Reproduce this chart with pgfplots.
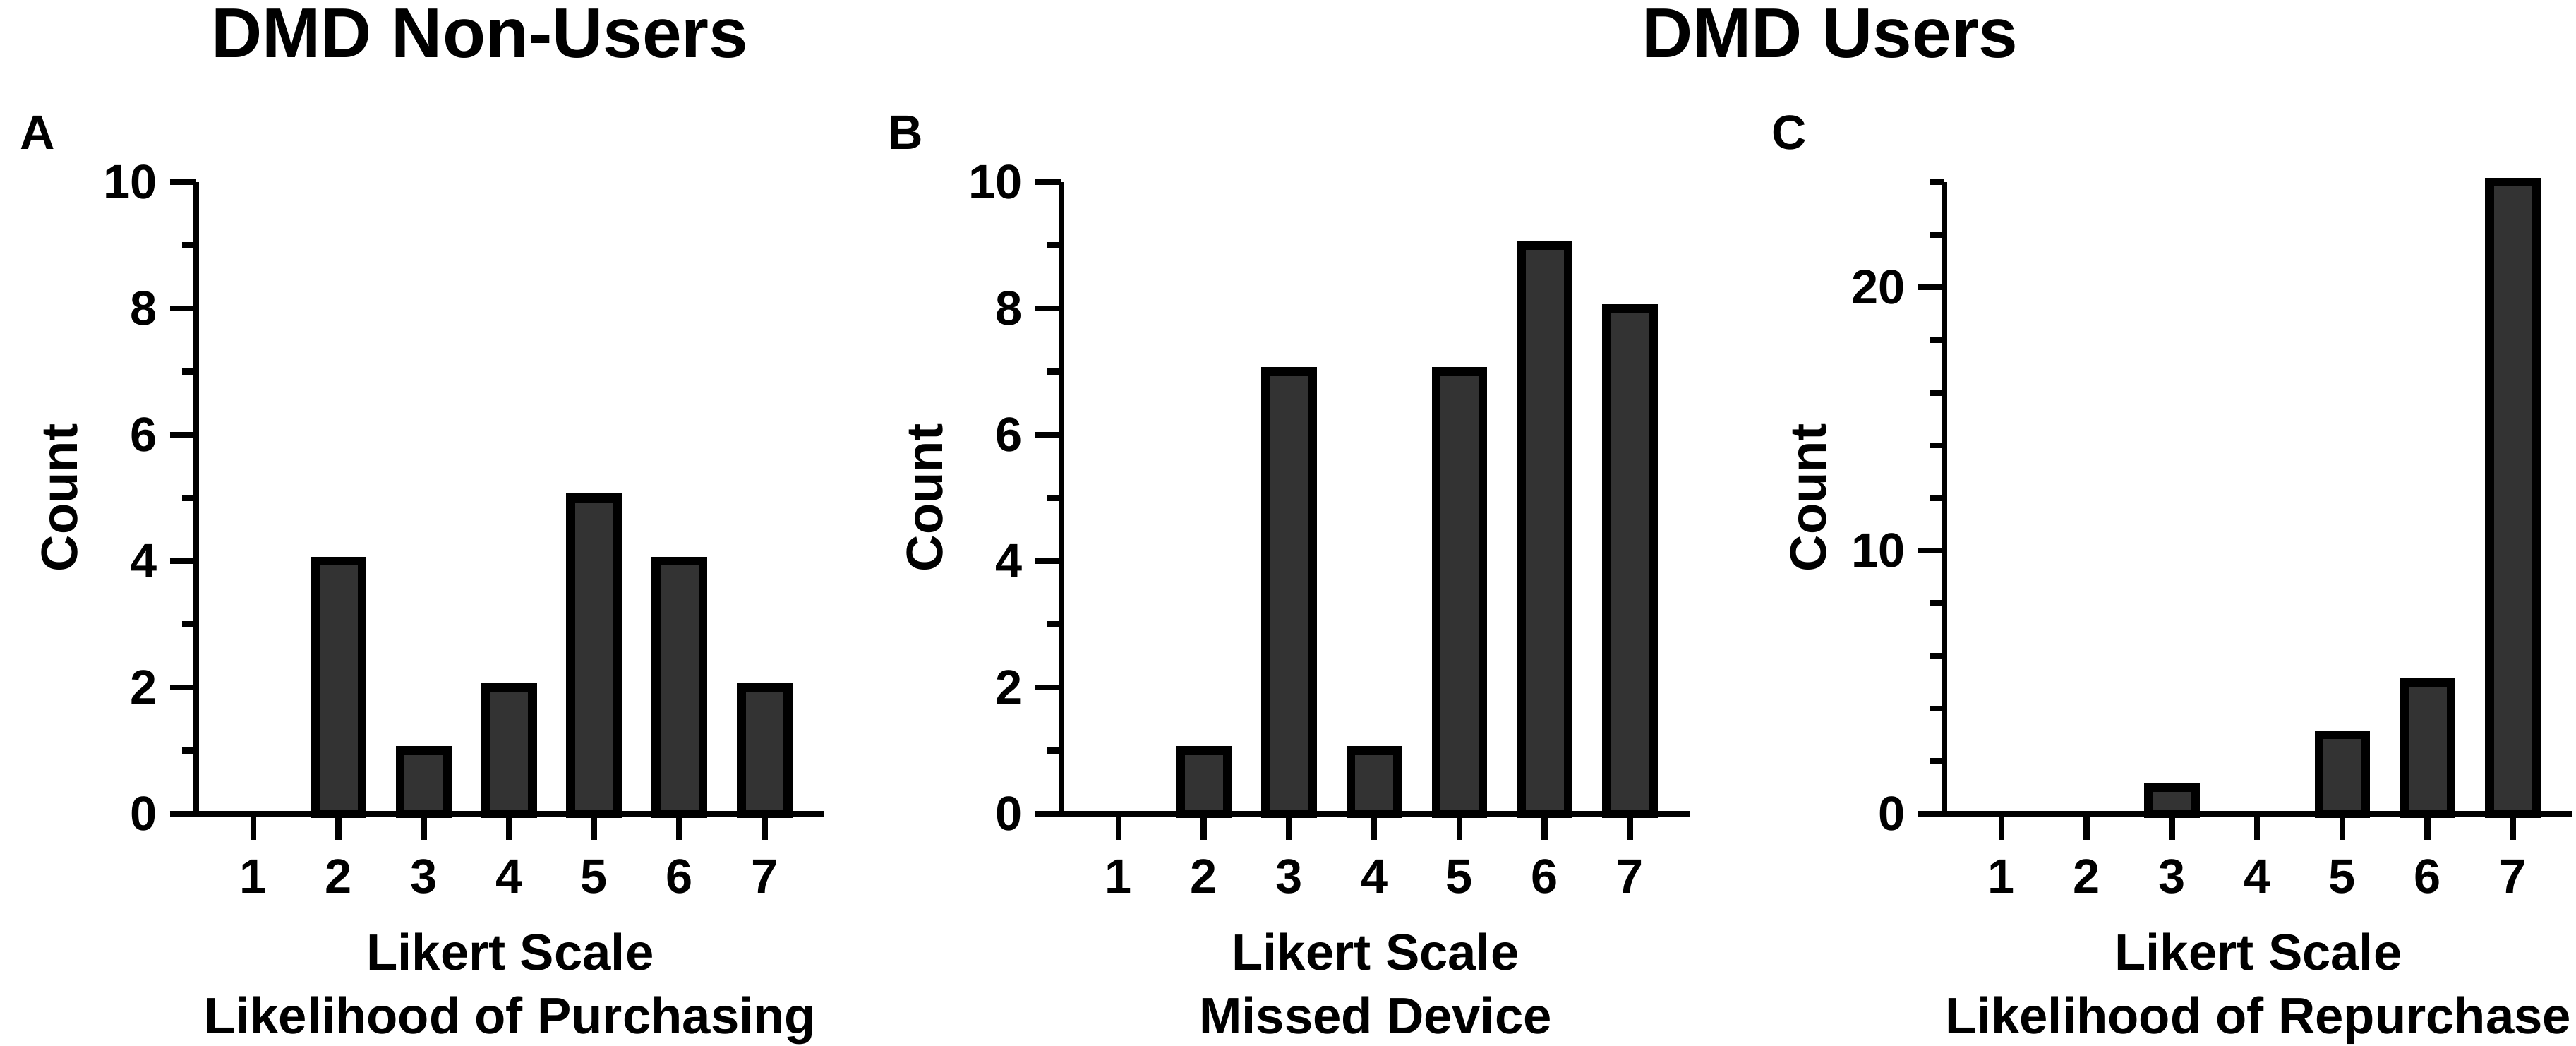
\documentclass[border=0pt]{standalone}
\usepackage{fontspec}
\setmainfont{Liberation Sans}
\usepackage{pgfplots}
\pgfplotsset{compat=1.18}
\definecolor{barfill}{HTML}{333333}
\pgfplotsset{
  likert/.style={
    scale only axis, width=178pt, height=179pt,
    anchor=south west,
    axis lines*=left,
    axis line style={-, line width=1.7pt, black},
    every outer x axis line/.append style={-},
    every outer y axis line/.append style={-},
    xmin=0.33, xmax=7.7, ymin=0,
    xtick={1,...,7},
    tick align=outside,
    major tick length=7.4pt, minor tick length=4pt,
    tick style={line width=1.7pt, black},
    /pgf/number format/assume math mode=true,
    ticklabel style={font=\fontsize{13.7}{16}\selectfont\bfseries, inner sep=0pt},
    xticklabel style={anchor=north, yshift=-5.4pt},
    yticklabel style={anchor=east, xshift=-3.4pt},
    label style={font=\fontsize{14.5}{18}\selectfont\bfseries, inner sep=0pt},
    xlabel style={at={(axis description cs:0.5,-0.1877)}, anchor=north, align=center},
    ylabel style={at={(axis description cs:-0.1888,0.5)}, anchor=base},
    ylabel={Count},
    ybar, bar width=0.55,
    restrict y to domain=0.5:100,
    clip=false,
  },
  likertbar/.style={fill=barfill, draw=black, line width=2.5pt},
}
\begin{document}
\begin{tikzpicture}
\useasboundingbox (0,0) rectangle (730pt,296.4pt);
\node[anchor=base, inner sep=0pt, font=\fontsize{20}{24}\selectfont\bfseries] at (136pt,280pt) {DMD Non-Users};
\node[anchor=base, inner sep=0pt, font=\fontsize{20}{24}\selectfont\bfseries] at (518.6pt,280pt) {DMD Users};
\node[anchor=base west, inner sep=0pt, font=\fontsize{13.7}{16}\selectfont\bfseries] at (5.6pt,254pt) {A};
\node[anchor=base west, inner sep=0pt, font=\fontsize{13.7}{16}\selectfont\bfseries] at (251.4pt,254pt) {B};
\node[anchor=base west, inner sep=0pt, font=\fontsize{13.7}{16}\selectfont\bfseries] at (501.8pt,254pt) {C};

\begin{axis}[likert, at={(55.6pt,65.8pt)}, ymax=10, ytick={0,2,...,10}, minor ytick={1,3,...,9},
  xlabel={Likert Scale\\Likelihood of Purchasing}]
\addplot[likertbar] coordinates {(1,0) (2,4) (3,1) (4,2) (5,5) (6,4) (7,2)};
\end{axis}

\begin{axis}[likert, at={(300.8pt,65.8pt)}, ymax=10, ytick={0,2,...,10}, minor ytick={1,3,...,9},
  xlabel={Likert Scale\\Missed Device}]
\addplot[likertbar] coordinates {(1,0) (2,1) (3,7) (4,1) (5,7) (6,9) (7,8)};
\end{axis}

\begin{axis}[likert, at={(551pt,65.8pt)}, ymax=24, ytick={0,10,20}, minor ytick={2,4,6,8,12,14,16,18,22,24},
  xlabel={Likert Scale\\Likelihood of Repurchase}]
\addplot[likertbar] coordinates {(1,0) (2,0) (3,1) (4,0) (5,3) (6,5) (7,24)};
\end{axis}
\end{tikzpicture}
\end{document}
